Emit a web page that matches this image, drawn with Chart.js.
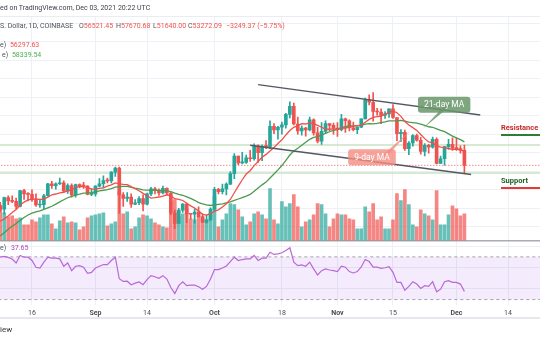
<!DOCTYPE html>
<html>
<head>
<meta charset="utf-8">
<script src="https://cdn.jsdelivr.net/npm/chart.js@4.4.0/dist/chart.umd.min.js"></script>
<style>
    html, body { margin: 0; padding: 0; background: #fff; }
    #wrap { position: relative; width: 540px; height: 340px; overflow: hidden; font-family: Roboto, 'DejaVu Sans', sans-serif; }
    #trendChart { position: absolute; left: 0; top: 0; }
    .t { position: absolute; white-space: nowrap; font-size: 7px; line-height: 10px; color: #50535e; }
    .red { color: #ef5350; }
    .green { color: #4caf50; }
    .lvl { position: absolute; white-space: nowrap; font-size: 7.5px; font-weight: bold; line-height: 10px; padding-bottom: 1px; width: 40px; }
</style>
</head>
<body>
<div id="wrap">
    <canvas id="trendChart" width="540" height="340"></canvas>
    <div style="position:absolute;left:0;top:16px;width:540px;height:1px;background:#e9ecf2"></div>
    <div class="t" style="left:0;top:3px;color:#3d3f47">ed on TradingView.com, Dec 03, 2021 20:22 UTC</div>
    <div class="t" style="left:0;top:21px">S. Dollar, 1D, COINBASE</div>
    <div class="t" style="left:79px;top:21px">O<span class="red">56521.45</span></div>
    <div class="t" style="left:116px;top:21px">H<span class="red">57670.68</span></div>
    <div class="t" style="left:153px;top:21px">L<span class="red">51640.00</span></div>
    <div class="t" style="left:188px;top:21px">C<span class="red">53272.09</span></div>
    <div class="t red" style="left:226px;top:21px">&minus;3249.37 (&minus;5.75%)</div>
    <div class="t" style="left:0;top:40px">e) <span class="red" style="margin-left:2px">56297.63</span></div>
    <div class="t" style="left:2px;top:50px">e) <span class="green" style="margin-left:2px">58339.54</span></div>
    <div class="lvl" style="left:501px;top:123px;color:#c62828;border-bottom:2px solid #2e7d32">Resistance</div>
    <div class="lvl" style="left:501px;top:176px;color:#1b5e20;border-bottom:2px solid #e53935">Support</div>
    <div class="t" style="left:0;top:243px">e) <span style="color:#ab47bc;margin-left:3px">37.65</span></div>
    <div style="position:absolute;left:0;top:317px;width:540px;height:2px;background:#e6e8ee"></div>
    <div class="t" style="left:0;top:325px;font-size:8px;color:#333">iew</div>
</div>
<script>
const UP = '#26a69a';
const DOWN = '#ef5350';

// one entry per day, index 0 = Aug 8 2021 ... index 117 = Dec 3 2021
const open = [
    44600, 43800, 46300, 45600, 45500, 44400, 47800, 47100, 47000, 45900, 44700, 44800, 46700, 49300, 48900, 49300, 49500, 47700, 48900, 46900, 49100, 48900, 48800, 47000,
    47100, 48800, 49300, 50000, 49900, 51800, 52700, 46900, 46100, 46400, 44900, 45200, 46100, 44900, 47100, 48200, 47800, 47300, 48300, 47300, 43000, 40700, 43600, 44900, 42800, 42700, 43200, 42200, 41000, 41500,
    43800, 48100, 47600, 48200, 49200, 51500, 55300, 53800, 53900, 54900, 54700, 57500, 56000, 57400, 57300, 61700, 60900, 61500, 62000, 64300, 66000, 62200, 60700, 61300, 60900, 63100, 60300, 58500, 60600, 62300, 61900,
    61300, 61000, 63300, 62900, 61400, 61000, 61500, 63300, 67500, 66900, 64900, 64800, 64100, 64400, 65500, 63600, 60100, 60400, 56900, 58100, 59700, 58700, 56300, 57600, 57200, 58900, 53700, 54700, 57300, 57800,
    57000, 56900, 56521.45
];
const high = [
    45300, 46400, 46700, 46700, 46200, 47900, 48100, 47400, 48000, 47100, 46000, 47000, 49400, 49800, 49500, 50500, 49900, 49300, 49300, 49200, 49300, 49600, 48900, 48200,
    48900, 50400, 51000, 50500, 51900, 52900, 52900, 47400, 47400, 47100, 45900, 46500, 46900, 47300, 48500, 48500, 48200, 48800, 48400, 47400, 43600, 44000, 45000, 45100, 42900, 43900, 44300, 42800, 42600, 44100,
    48500, 48300, 49200, 49500, 51900, 55800, 55300, 56100, 55500, 56500, 57900, 57700, 57700, 58600, 62900, 62300, 61700, 62600, 64500, 67000, 66700, 63700, 61800, 61500, 63700, 63300, 61500, 62500, 62900, 62300, 62400,
    62500, 64300, 63500, 63100, 62600, 61600, 63300, 67800, 68500, 69000, 65600, 65500, 64900, 65500, 66400, 63600, 61000, 60900, 58400, 59900, 60000, 59300, 58000, 57800, 59400, 59200, 55300, 57400, 58900, 59200,
    59100, 57500, 57670.68
];
const low = [
    43300, 42800, 44800, 45200, 43800, 44300, 45900, 45600, 45500, 44400, 44200, 43900, 46600, 48300, 48100, 49100, 47600, 47200, 46400, 46400, 48400, 48300, 46900, 46700,
    46600, 48600, 48400, 49500, 49500, 50900, 42900, 44400, 45500, 44200, 44800, 44800, 43400, 44700, 46700, 47100, 46800, 47100, 46900, 42600, 39600, 40600, 43100, 40900, 41700, 40800, 42100, 40900, 40800, 41400,
    43300, 47100, 47100, 46900, 49100, 50400, 53400, 53600, 53700, 54100, 54400, 53900, 54300, 56900, 56900, 60100, 58900, 60000, 61300, 63500, 62000, 60000, 59800, 59600, 60700, 59800, 58100, 57800, 60200, 60700, 60000,
    59500, 60700, 60400, 60700, 60700, 60100, 61400, 63300, 66300, 62800, 64100, 62300, 63400, 63600, 63400, 58600, 58400, 56500, 55600, 57400, 58500, 55700, 55300, 55900, 57000, 53600, 53700, 53300, 56700, 56500,
    56500, 55900, 51640
];
const close = [
    43800, 46300, 45600, 45500, 44400, 47800, 47100, 47000, 45900, 44700, 44800, 46700, 49300, 48900, 49300, 49500, 47700, 48900, 46900, 49100, 48900, 48800, 47000, 47100,
    48800, 49300, 50000, 49900, 51800, 52700, 46900, 46100, 46400, 44900, 45200, 46100, 44900, 47100, 48200, 47800, 47300, 48300, 47300, 43000, 40700, 43600, 44900, 42800, 42700, 43200, 42200, 41000, 41500, 43800,
    48100, 47600, 48200, 49200, 51500, 55300, 53800, 53900, 54900, 54700, 57500, 56000, 57400, 57300, 61700, 60900, 61500, 62000, 64300, 66000, 62200, 60700, 61300, 60900, 63100, 60300, 58500, 60600, 62300, 61900, 61300,
    61000, 63300, 62900, 61400, 61000, 61500, 63300, 67500, 66900, 64900, 64800, 64100, 64400, 65500, 63600, 60100, 60400, 56900, 58100, 59700, 58700, 56300, 57600, 57200, 58900, 53700, 54700, 57300, 57800, 57000,
    56900, 56500, 53272.09
];
// thousand BTC
const volume = [
    35, 28, 24, 25, 22, 23, 16, 16, 21, 19, 23, 26, 26, 17, 12, 20, 24, 18, 19, 18, 11, 14, 23, 25,
    26, 27, 28, 15, 17, 19, 49, 27, 29, 12, 14, 23, 26, 25, 22, 18, 16, 14, 13, 39, 41, 24, 27, 32, 22, 21, 24, 22, 21, 27,
    44, 14, 21, 27, 37, 36, 31, 24, 16, 19, 27, 29, 26, 22, 52, 21, 17, 39, 34, 37, 46, 34, 14, 19, 21, 26, 37, 36, 27, 14, 22,
    27, 26, 26, 22, 21, 12, 12, 34, 29, 37, 21, 24, 12, 12, 21, 47, 40, 51, 36, 16, 14, 31, 27, 25, 21, 50, 16, 16, 26, 35,
    32, 25, 27
];
const ma9 = [
    41180, 41710, 42340, 43060, 43740, 44640, 45330, 45800, 45940, 46040, 45880, 46000, 46410, 46910, 47080, 47340, 47420, 47760, 48000, 48480,
    48710, 48660, 48440, 48200, 48120, 48300, 48420, 48760, 49060, 49490, 49280, 49180, 49100, 48670, 48210, 47780, 47220, 46700, 46200, 46300,
    46430, 46640, 46910, 46670, 46070, 45920, 45680, 45080, 44510, 44060, 43380, 42680, 42510, 42860, 43360, 43660, 44260, 44980, 45900, 47360,
    48780, 50160, 51390, 52120, 53220, 54090, 55000, 55640, 56360, 57140, 57990, 58780, 59840, 60790, 61480, 61840, 62290, 62200, 62440, 62310,
    61920, 61510, 61100, 61070, 61130, 61100, 61370, 61340, 61470, 61740, 61840, 61960, 62580, 63200, 63630, 63800, 63930, 64270, 64770, 65000,
    64640, 63860, 62740, 61990, 61420, 60820, 59920, 59040, 58330, 58200, 57460, 57210, 57120, 56910, 56720, 56790, 56670, 56297.63
];
const ma21 = [
    38000, 38730, 39490, 40130, 40700, 41380, 41990, 42540, 42950, 43200, 43430, 43750, 44090, 44440, 44890, 45380, 45830, 46270, 46550, 46850,
    47050, 47290, 47320, 47400, 47550, 47780, 47890, 48020, 48250, 48570, 48680, 48740, 48720, 48510, 48340, 48190, 47970, 47940, 47900, 47950,
    47860, 47840, 47770, 47580, 47270, 47020, 46810, 46470, 46130, 45720, 45220, 44940, 44720, 44600, 44750, 44860, 44960, 45170, 45380, 45710,
    46000, 46310, 46630, 46980, 47670, 48400, 49060, 49650, 50550, 51410, 52290, 53230, 54340, 55500, 56380, 56980, 57630, 58240, 58900, 59320,
    59470, 59800, 60200, 60530, 60840, 61010, 61360, 61620, 61810, 61780, 61810, 61900, 62160, 62280, 62230, 62350, 62510, 62660, 62880, 62900,
    62900, 62990, 62810, 62610, 62500, 62380, 62160, 61890, 61610, 61500, 61150, 60820, 60540, 60080, 59600, 59220, 58830, 58339.54
];
const rsi = [
    69.7, 70.4, 69.5, 68.0, 64.3, 71.3, 69.7, 69.7, 66.6, 60.3, 59.6, 65.0, 69.7, 68.8, 68.8, 68.1, 61.2, 64.3, 57.1, 61.2, 61.8, 60.3, 54.6, 55.5,
    59.5, 61.2, 62.8, 62.8, 66.6, 69.7, 49.5, 47.0, 47.2, 43.9, 45.4, 46.5, 43.9, 48.6, 52.4, 51.4, 49.9, 52.4, 49.2, 41.3, 35.7, 43.0, 46.7, 43.0, 43.5, 43.5, 42.0, 39.7, 42.3, 49.2,
    58.1, 58.1, 59.6, 61.5, 65.5, 69.7, 66.6, 67.5, 68.1, 68.1, 71.3, 66.6, 68.8, 68.8, 74.4, 72.3, 72.8, 73.8, 76.0, 78.5, 65.0, 61.8, 62.4, 61.2, 65.0, 58.7, 53.0, 57.1, 58.7, 57.7, 57.1,
    56.2, 61.2, 60.3, 56.2, 54.9, 56.2, 60.5, 67.5, 65.6, 60.3, 60.3, 59.3, 59.8, 60.9, 55.5, 46.1, 46.1, 38.8, 42.3, 46.7, 44.5, 40.4, 43.0, 42.3, 46.7, 37.3, 39.7, 46.7, 47.7, 46.1,
    46.1, 44.5, 37.65
];

// x axis ticks (day index) and their labels
const tickIdx = [8, 24, 37, 54, 71, 85, 99, 115, 128];
const tickLabels = ['16', 'Sep', '14', 'Oct', '18', 'Nov', '15', 'Dec', '14'];
const monthLabels = ['Sep', 'Oct', 'Nov', 'Dec'];
const priceGrid = [40000, 44000, 48000, 52000, 56000, 60000, 64000, 68000, 72000, 76000, 80000, 84000];
const rsiGrid = [40, 60, 80];

// drawings: [dayIndex, price]
const channelUpper = [[65, 70712], [121, 64172]];
const channelLower = [[63, 57632], [118.7, 51310]];
const resistanceLevel = 57670.68;
const supportLevel = 51640;
const lastClose = 53272.09;
const callouts = [
    { text: '21-day MA', at: [111.9, 66350], base: [113, 66350], tip: [106.5, 61200], fill: 'rgba(104,150,106,0.85)' },
    { text: '9-day MA', at: [93.7, 55020], base: [96.5, 55020], tip: [103.3, 60700], fill: 'rgba(242,140,130,0.8)' }
];

const pts = (arr) => arr.map((v, i) => ({ x: i, y: v }));
const span = (v) => [{ x: -2, y: v }, { x: 140, y: v }];
const seg = (p) => p.map(([x, y]) => ({ x, y }));
const candleColors = close.map((c, i) => c >= open[i] ? UP : DOWN);
const volColors = close.map((c, i) => c >= open[i] ? 'rgba(38,166,154,0.7)' : 'rgba(239,83,80,0.7)');

const calloutPlugin = {
    id: 'callouts',
    afterDatasetsDraw(chart) {
        const { ctx, scales } = chart;
        const px = (d) => [scales.x.getPixelForValue(d[0]), scales.yPrice.getPixelForValue(d[1])];
        callouts.forEach(c => {
            const [cx, cy] = px(c.at);
            const [bx, by] = px(c.base);
            const [tx, ty] = px(c.tip);
            ctx.save();
            ctx.font = '8.5px Roboto, sans-serif';
            const w = ctx.measureText(c.text).width + 12, h = 16;
            ctx.fillStyle = c.fill;
            ctx.beginPath();
            ctx.moveTo(bx - 3, by);
            ctx.lineTo(bx + 3, by);
            ctx.lineTo(tx, ty);
            ctx.closePath();
            ctx.fill();
            ctx.beginPath();
            ctx.roundRect(cx - w / 2, cy - h / 2, w, h, 3);
            ctx.fill();
            ctx.fillStyle = '#fff';
            ctx.textAlign = 'center';
            ctx.textBaseline = 'middle';
            ctx.fillText(c.text, cx, cy + 0.5);
            ctx.restore();
        });
    }
};

const hidden = { display: false };

new Chart(document.getElementById('trendChart'), {
    type: 'bar',
    data: {
        datasets: [
            {
                label: 'Volume', yAxisID: 'yVol', order: 10, grouped: false,
                data: pts(volume), backgroundColor: volColors, barThickness: 3
            },
            {
                type: 'line', label: 'Resistance', yAxisID: 'yPrice', order: 9,
                data: span(resistanceLevel), borderColor: '#c8e2c2', borderWidth: 1.5, pointRadius: 0
            },
            {
                type: 'line', label: 'Support', yAxisID: 'yPrice', order: 9,
                data: span(supportLevel), borderColor: '#c8e2c2', borderWidth: 1.5, pointRadius: 0
            },
            {
                type: 'line', label: 'Last', yAxisID: 'yPrice', order: 9,
                data: span(lastClose), borderColor: '#ef5350', borderWidth: 1, borderDash: [1, 2], pointRadius: 0
            },
            {
                label: 'Wick', yAxisID: 'yPrice', order: 6, grouped: false,
                data: low.map((l, i) => ({ x: i, y: [l, high[i]] })),
                backgroundColor: candleColors, barThickness: 1
            },
            {
                label: 'Body', yAxisID: 'yPrice', order: 5, grouped: false,
                data: open.map((o, i) => ({ x: i, y: [o, close[i]] })),
                backgroundColor: candleColors, barThickness: 3, minBarLength: 1
            },
            {
                type: 'line', label: '21-day MA', yAxisID: 'yPrice', order: 4,
                data: pts(ma21), borderColor: '#4c9a4f', borderWidth: 1.3, pointRadius: 0
            },
            {
                type: 'line', label: '9-day MA', yAxisID: 'yPrice', order: 3,
                data: pts(ma9), borderColor: '#f0504a', borderWidth: 1.3, pointRadius: 0
            },
            {
                type: 'line', label: 'Channel top', yAxisID: 'yPrice', order: 2,
                data: seg(channelUpper), borderColor: '#555861', borderWidth: 1.5, pointRadius: 0
            },
            {
                type: 'line', label: 'Channel bottom', yAxisID: 'yPrice', order: 2,
                data: seg(channelLower), borderColor: '#555861', borderWidth: 1.5, pointRadius: 0
            },
            {
                type: 'line', label: 'RSI 70', yAxisID: 'yRsi', order: 8,
                data: span(70), borderColor: '#a6a6ad', borderWidth: 1, borderDash: [3, 3], pointRadius: 0,
                fill: { value: 30 }, backgroundColor: 'rgba(150,60,230,0.1)'
            },
            {
                type: 'line', label: 'RSI 30', yAxisID: 'yRsi', order: 8,
                data: span(30), borderColor: '#a6a6ad', borderWidth: 1, borderDash: [3, 3], pointRadius: 0
            },
            {
                type: 'line', label: 'RSI', yAxisID: 'yRsi', order: 1,
                data: pts(rsi), borderColor: '#b968d8', borderWidth: 1.2, pointRadius: 0
            }
        ]
    },
    options: {
        responsive: false,
        animation: false,
        events: [],
        layout: { padding: { top: 16, left: 0, right: 0, bottom: 19 } },
        plugins: { legend: hidden, tooltip: { enabled: false } },
        scales: {
            x: {
                type: 'linear', min: -0.066, max: 136.06, offset: false,
                grid: { color: '#edf0f5', offset: false, drawTicks: false },
                border: hidden,
                afterBuildTicks: (s) => { s.ticks = tickIdx.map(v => ({ value: v })); },
                ticks: {
                    autoSkip: false, maxRotation: 0, padding: 4, color: '#4a4c54',
                    callback: (v, i) => tickLabels[i],
                    font: (c) => ({
                        family: 'Roboto', size: 7,
                        weight: monthLabels.includes(tickLabels[c.index]) ? 'bold' : 'normal'
                    })
                }
            },
            yPrice: {
                position: 'left', min: 23188, max: 85536,
                grid: { color: '#edf0f5', drawTicks: false },
                border: hidden, ticks: { display: false },
                afterBuildTicks: (s) => { s.ticks = priceGrid.map(v => ({ value: v })); }
            },
            yVol: {
                position: 'left', min: -63, max: 223,
                grid: { color: '#a9acb4', lineWidth: 1.5, drawTicks: false },
                border: hidden, ticks: { display: false },
                afterBuildTicks: (s) => { s.ticks = [{ value: 0 }]; }
            },
            yRsi: {
                position: 'left', min: 25.27, max: 295.72,
                grid: { color: '#edf0f5', drawTicks: false },
                border: hidden, ticks: { display: false },
                afterBuildTicks: (s) => { s.ticks = rsiGrid.map(v => ({ value: v })); }
            }
        }
    },
    plugins: [calloutPlugin]
});
</script>
</body>
</html>
